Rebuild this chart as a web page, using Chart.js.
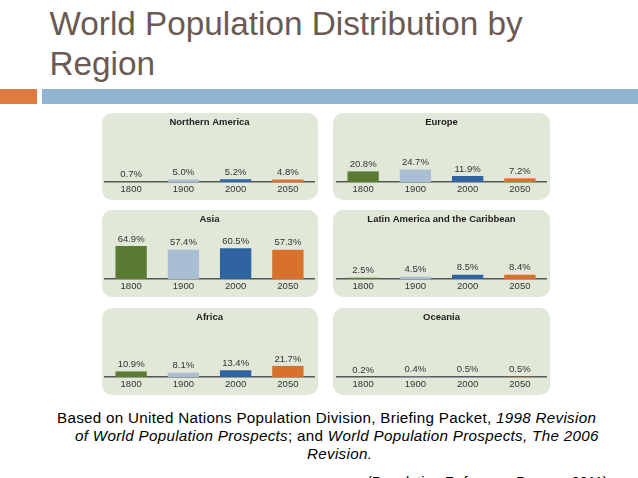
<!DOCTYPE html>
<html>
<head>
<meta charset="utf-8">
<script src="https://cdn.jsdelivr.net/npm/chart.js@4.4.1/dist/chart.umd.min.js"></script>
<style>
  html, body { margin:0; padding:0; background:#ffffff; }
  body { width:638px; height:478px; position:relative; overflow:hidden; font-family:"Liberation Sans", Arial, sans-serif; }
  .title { position:absolute; left:49.5px; top:3.6px; font-size:33.3px; line-height:40px; color:#6b5a53; white-space:nowrap; }
  .barO { position:absolute; left:0; top:89px; width:37px; height:15px; background:#df7b3f; }
  .barB { position:absolute; left:42px; top:89px; width:596px; height:15px; background:#93b3d2; }
  .panel { position:absolute; background:#e2e8d7; border-radius:10px; }
  .panel canvas { position:absolute; left:0; top:0; }
  .cap { position:absolute; font-size:15.2px; letter-spacing:0.3px; line-height:18px; color:#000; white-space:nowrap; }
</style>
</head>
<body>
<div class="title">World Population Distribution by<br>Region</div>
<div class="barO"></div>
<div class="barB"></div>

<div class="cap" style="left:57px; top:408.5px;">Based on United Nations Population Division, Briefing Packet, <i>1998 Revision</i></div>
<div class="cap" style="left:75px; top:426.5px;"><i>of World Population Prospects</i>; and <i>World Population Prospects, The 2006</i></div>
<div class="cap" style="left:307px; top:444.5px;"><i>Revision.</i></div>
<div class="cap" style="left:367px; top:472.5px; font-size:14.6px; letter-spacing:0;">(Population Reference Bureau, 2011)</div>

<script>
// ---- data ----
const years = ['1800', '1900', '2000', '2050'];
const regionNames = ['Northern America', 'Europe', 'Asia', 'Latin America and the Caribbean', 'Africa', 'Oceania'];
const northernAmerica = [0.7, 5.0, 5.2, 4.8];
const europe = [20.8, 24.7, 11.9, 7.2];
const asia = [64.9, 57.4, 60.5, 57.3];
const latinAmerica = [2.5, 4.5, 8.5, 8.4];
const africa = [10.9, 8.1, 13.4, 21.7];
const oceania = [0.2, 0.4, 0.5, 0.5];
const regionValues = [northernAmerica, europe, asia, latinAmerica, africa, oceania];

// ---- styling / layout ----
const barColors = ['#5b7b33', '#a9bdd5', '#2f64a0', '#d8712b'];
const FONT = '"Liberation Sans", Arial, sans-serif';
const colLeft = [102, 333];
const colWidth = [216, 217];
const padLR = [[3, 4], [4, 4]];
const rowTop = [113, 210, 308];
const panelHeight = 87;

const valueLabels = {
  id: 'valueLabels',
  afterDatasetsDraw(chart) {
    const ctx = chart.ctx;
    const meta = chart.getDatasetMeta(0);
    const vals = chart.data.datasets[0].data;
    ctx.save();
    ctx.font = '9.5px ' + FONT;
    ctx.fillStyle = '#333333';
    ctx.textAlign = 'center';
    ctx.textBaseline = 'middle';
    meta.data.forEach((bar, i) => {
      ctx.fillText(vals[i].toFixed(1) + '%', bar.x, bar.y - 7);
    });
    ctx.restore();
  }
};

regionNames.forEach((name, idx) => {
  const col = idx % 2, row = Math.floor(idx / 2);
  const panel = document.createElement('div');
  panel.className = 'panel';
  panel.style.left = colLeft[col] + 'px';
  panel.style.top = rowTop[row] + 'px';
  panel.style.width = colWidth[col] + 'px';
  panel.style.height = panelHeight + 'px';
  const canvas = document.createElement('canvas');
  canvas.width = colWidth[col];
  canvas.height = panelHeight;
  panel.appendChild(canvas);
  document.body.appendChild(panel);

  new Chart(canvas, {
    type: 'bar',
    data: {
      labels: years,
      datasets: [{
        data: regionValues[idx],
        backgroundColor: barColors,
        borderWidth: 0,
        barPercentage: 0.6,
        categoryPercentage: 1.0
      }]
    },
    options: {
      responsive: false,
      animation: false,
      devicePixelRatio: 1,
      layout: { padding: { left: padLR[col][0], right: padLR[col][1], top: 0, bottom: 0 } },
      plugins: {
        legend: { display: false },
        tooltip: { enabled: false },
        title: {
          display: true,
          text: name,
          color: '#1e1e1e',
          font: { family: FONT, size: 9.5, weight: 'bold', lineHeight: 1.2 },
          padding: { top: 4, bottom: 2.6 }
        }
      },
      scales: {
        x: {
          grid: { display: false, drawTicks: false },
          border: { display: true, color: '#555555', width: 1.5 },
          ticks: { color: '#333333', font: { family: FONT, size: 9.5 }, padding: 2, maxRotation: 0 },
          afterFit(scale) { scale.height = 18; }
        },
        y: { display: false, min: 0, max: 100 }
      }
    },
    plugins: [valueLabels]
  });
});
</script>
</body>
</html>
